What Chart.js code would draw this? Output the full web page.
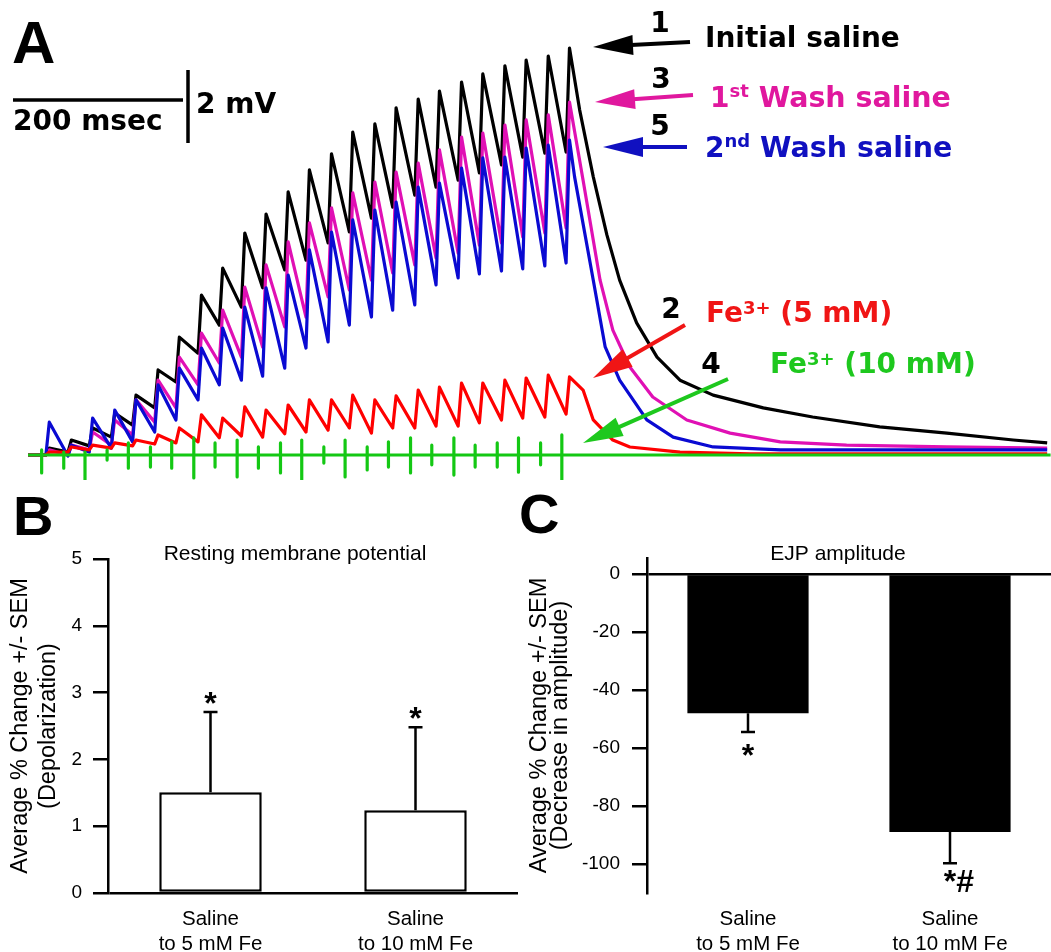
<!DOCTYPE html>
<html><head><meta charset="utf-8">
<script src="https://cdn.jsdelivr.net/npm/chart.js@4.4.1/dist/chart.umd.min.js"></script>
<style>
html,body{margin:0;padding:0;background:#fff;}
#wrap{position:relative;width:1051px;height:952px;overflow:hidden;background:#fff;}
canvas{position:absolute;}
</style></head><body>
<div id="wrap">
<canvas id="cA" width="1051" height="480" style="left:0;top:0"></canvas>
<canvas id="cB" width="520" height="472" style="left:0;top:480px"></canvas>
<canvas id="cC" width="531" height="472" style="left:520px;top:480px"></canvas>
</div>
<script>
// ---------------- Panel A data (time in ms, potential in mV above baseline) ----------------
const stimTimes = [49,75,100,126,151,177,202,228,253,279,304,330,355,381,406,432,457,483,508,534,559,585,610,636,661];
const riseTimes = [54,80,105,131,156,182,207,233,258,284,309,335,360,386,411,437,462,488,513,539,564,590,615,641,666];
const peakTimes = [58,84,109,135,160,186,211,237,262,288,313,339,364,390,415,441,466,492,517,543,568,594,619,645,670];
const traceStart = 33;
const traceEnd = 1236;

const salinePeaks   = [0.19,0.41,0.74,1.15,1.64,2.33,3.23,4.38,5.12,6.08,6.60,7.21,7.81,8.25,8.85,9.07,9.51,9.75,9.97,10.22,10.44,10.66,10.82,10.93,11.15];
const salineTroughs = [0,0.08,0.25,0.49,0.82,1.29,2.00,2.79,3.56,4.05,4.58,5.07,5.34,5.81,6.11,6.49,6.79,7.12,7.34,7.53,7.73,7.95,8.16,8.27,8.30];
const salineTailT   = [682,698,714,729,749,773,800,839,898,956,1035,1114,1192,1232];
const salineTailV   = [9.45,7.62,6.03,4.79,3.62,2.68,2.05,1.64,1.29,1.04,0.77,0.60,0.41,0.33];

const wash1Peaks    = [0.14,0.27,0.63,0.96,1.51,2.05,2.68,3.34,3.97,4.60,5.21,5.84,6.36,6.77,7.18,7.48,7.75,8.00,8.36,8.71,8.82,9.04,9.18,9.32,9.67];
const wash1Troughs  = [0,0,0.14,0.27,0.55,0.90,1.29,1.92,2.52,2.68,2.96,3.51,3.78,4.33,4.52,4.79,4.99,5.21,5.40,5.53,5.75,5.81,5.97,6.08,6.22];
const wash1TailT    = [686,706,721,741,768,808,859,918,996,1114,1232];
const wash1TailV    = [7.53,4.79,3.42,2.41,1.59,0.96,0.60,0.36,0.27,0.22,0.19];

const wash2Peaks    = [0.90,0.27,1.01,1.23,1.51,1.92,2.38,2.93,3.48,4.05,4.58,4.93,5.62,6.11,6.44,6.71,6.93,7.34,7.45,7.86,8.14,8.16,8.41,8.49,8.63];
const wash2Troughs  = [0,-0.03,0.08,0.19,0.36,0.63,0.96,1.51,1.92,2.05,2.16,2.38,2.93,3.10,3.56,3.78,3.97,4.11,4.66,4.85,4.96,5.04,5.10,5.18,5.26];
const wash2TailT    = [676,698,712,729,761,792,839,918,1074,1232];
const wash2TailV    = [7.62,4.79,2.96,2.05,0.96,0.49,0.22,0.14,0.14,0.14];

const fe5Peaks      = [0.08,0.22,0.27,0.33,0.41,0.55,0.74,1.10,1.01,1.32,1.23,1.37,1.51,1.51,1.64,1.51,1.62,1.78,1.86,1.97,1.97,2.05,2.11,2.19,2.14];
const fe5Troughs    = [0,0.08,0.14,0.19,0.25,0.30,0.33,0.36,0.47,0.52,0.49,0.58,0.63,0.68,0.74,0.60,0.74,0.74,0.79,0.79,0.88,0.96,1.01,1.04,1.12];
const fe5TailT      = [686,698,721,741,800,882,1232];
const fe5TailV      = [1.78,0.96,0.41,0.22,0.08,0.03,0.03];

const fe10ArtifactUp   = [0.14,0.08,0.08,0.14,0.33,0.22,0.36,0.47,0.33,0.41,0.22,0.33,0.41,0.22,0.41,0.22,0.36,0.47,0.27,0.47,0.27,0.33,0.47,0.33,0.55];
const fe10ArtifactDown = [-0.49,-0.36,-0.68,-0.14,-0.36,-0.33,-0.36,-0.63,-0.33,-0.60,-0.36,-0.49,-0.68,-0.22,-0.60,-0.41,-0.33,-0.49,-0.27,-0.55,-0.33,-0.33,-0.47,-0.27,-0.68];

const scaleBarTime = 200;   // msec
const scaleBarVolt = 2;     // mV

// ---------------- Panel B / C data ----------------
const barCategories = [['Saline','to 5 mM Fe'],['Saline','to 10 mM Fe']];
const rmpMean = [1.51, 1.24];
const rmpSem  = [1.20, 1.24];
const rmpSig  = ['*','*'];
const rmpTicks = [0,1,2,3,4,5];

const ejpMean = [-48, -89];
const ejpSem  = [6.5, 10.7];
const ejpSig  = ['*','*#'];
const ejpTicks = [0,-20,-40,-60,-80,-100];

// ---------------- helpers ----------------
const SANS = '"Liberation Sans", Arial, Helvetica, sans-serif';
const BOLDA = '"DejaVu Sans", Verdana, sans-serif';
Chart.defaults.font.family = SANS;
Chart.defaults.color = '#000';

function buildTrace(peaks, troughs, tailT, tailV){
  const pts = [{x: traceStart, y: 0}];
  for (let k = 0; k < stimTimes.length; k++){
    pts.push({x: riseTimes[k], y: troughs[k]});
    pts.push({x: peakTimes[k], y: peaks[k]});
  }
  for (let i = 0; i < tailT.length; i++) pts.push({x: tailT[i], y: tailV[i]});
  return pts;
}
function buildArtifacts(up, down){
  const pts = [{x: traceStart, y: 0}];
  for (let k = 0; k < stimTimes.length; k++){
    pts.push({x: stimTimes[k], y: 0});
    pts.push({x: stimTimes[k], y: up[k]});
    pts.push({x: stimTimes[k], y: down[k]});
    pts.push({x: stimTimes[k], y: 0});
  }
  pts.push({x: traceEnd, y: 0});
  return pts;
}
function arrow(ctx, x1, y1, x2, y2, color){
  const a = Math.atan2(y2 - y1, x2 - x1), hl = 40, hw = 10;
  const bx = x2 - hl * Math.cos(a), by = y2 - hl * Math.sin(a);
  ctx.save();
  ctx.strokeStyle = color; ctx.fillStyle = color; ctx.lineWidth = 4; ctx.lineCap = 'butt';
  ctx.beginPath(); ctx.moveTo(x1, y1); ctx.lineTo(bx + 2*Math.cos(a), by + 2*Math.sin(a)); ctx.stroke();
  ctx.beginPath(); ctx.moveTo(x2, y2);
  ctx.lineTo(bx - hw * Math.sin(a), by + hw * Math.cos(a));
  ctx.lineTo(bx + hw * Math.sin(a), by - hw * Math.cos(a));
  ctx.closePath(); ctx.fill();
  ctx.restore();
}
function rich(ctx, x, y, parts, color){
  ctx.save(); ctx.fillStyle = color; ctx.textAlign = 'left'; ctx.textBaseline = 'alphabetic';
  for (const [t, s, dy] of parts){
    ctx.font = 'bold ' + s + 'px ' + BOLDA;
    ctx.fillText(t, x, y + dy);
    x += ctx.measureText(t).width;
  }
  ctx.restore();
}
function label(ctx, t, x, y, font, color, align){
  ctx.save(); ctx.font = font; ctx.fillStyle = color || '#000';
  ctx.textAlign = align || 'left'; ctx.textBaseline = 'alphabetic';
  ctx.fillText(t, x, y); ctx.restore();
}

// ---------------- Panel A ----------------
const annotA = {
  id: 'annotA',
  afterDraw(chart){
    const ctx = chart.ctx, xs = chart.scales.x, ys = chart.scales.y;
    label(ctx, 'A', 12, 63, 'bold 60px ' + SANS);
    const hLen = xs.getPixelForValue(scaleBarTime) - xs.getPixelForValue(0);
    const vLen = ys.getPixelForValue(0) - ys.getPixelForValue(scaleBarVolt);
    ctx.save(); ctx.strokeStyle = '#000'; ctx.lineWidth = 3.5;
    ctx.beginPath(); ctx.moveTo(13, 100); ctx.lineTo(13 + hLen, 100); ctx.stroke();
    ctx.beginPath(); ctx.moveTo(188, 143); ctx.lineTo(188, 143 - vLen); ctx.stroke();
    ctx.restore();
    label(ctx, '200 msec', 13, 130, 'bold 28px ' + BOLDA);
    label(ctx, '2 mV', 196, 113, 'bold 28px ' + BOLDA);
    const f = 'bold 28px ' + BOLDA;
    label(ctx, '1', 660, 32, f, '#000', 'center');
    arrow(ctx, 690, 42, 593, 47, '#000');
    rich(ctx, 705, 47, [['Initial saline', 28, 0]], '#000');

    label(ctx, '3', 661, 88, f, '#000', 'center');
    arrow(ctx, 693, 95, 595, 102, '#e0189e');
    rich(ctx, 710, 107, [['1', 28, 0], ['st', 18, -10], [' Wash saline', 28.5, 0]], '#e0189e');

    label(ctx, '5', 660, 135, f, '#000', 'center');
    arrow(ctx, 687, 147, 603, 147, '#1010c0');
    rich(ctx, 705, 157, [['2', 28, 0], ['nd', 18, -10], [' Wash saline', 28.5, 0]], '#1010c0');

    label(ctx, '2', 671, 318, f, '#000', 'center');
    arrow(ctx, 685, 325, 593, 378, '#f01515');
    rich(ctx, 706, 322, [['Fe', 28, 0], ['3+', 18, -8], [' (5 mM)', 28, 0]], '#f01515');

    label(ctx, '4', 711, 373, f, '#000', 'center');
    arrow(ctx, 728, 379, 583, 443, '#1ec81e');
    rich(ctx, 770, 373, [['Fe', 28, 0], ['3+', 18, -8], [' (10 mM)', 28, 0]], '#1ec81e');
  }
};

const lineDs = (label, data, color) => ({label, data, borderColor: color, borderWidth: 3.2,
  pointRadius: 0, tension: 0, fill: false, borderJoinStyle: 'round'});

new Chart(document.getElementById('cA'), {
  type: 'line',
  data: { datasets: [
    lineDs('Fe3+ (10 mM)', buildArtifacts(fe10ArtifactUp, fe10ArtifactDown), '#14c814'),
    lineDs('Fe3+ (5 mM)', buildTrace(fe5Peaks, fe5Troughs, fe5TailT, fe5TailV), '#ff0000'),
    lineDs('2nd Wash saline', buildTrace(wash2Peaks, wash2Troughs, wash2TailT, wash2TailV), '#0a0ad2'),
    lineDs('1st Wash saline', buildTrace(wash1Peaks, wash1Troughs, wash1TailT, wash1TailV), '#e010b4'),
    lineDs('Initial saline', buildTrace(salinePeaks, salineTroughs, salineTailT, salineTailV), '#000000')
  ]},
  options: {
    responsive: false, animation: false, devicePixelRatio: 1,
    layout: { padding: 0 },
    plugins: { legend: {display: false}, tooltip: {enabled: false} },
    scales: {
      x: { type: 'linear', min: 0, max: 1236.5, display: false },
      y: { type: 'linear', min: -0.685, max: 12.466, display: false }
    }
  },
  plugins: [annotA]
});

// ---------------- Panels B & C ----------------
const errPlugin = {
  id: 'errbars',
  afterDatasetsDraw(chart, args, o){
    const meta = chart.getDatasetMeta(0), ys = chart.scales.y, ctx = chart.ctx;
    ctx.save();
    ctx.strokeStyle = '#000'; ctx.fillStyle = '#000'; ctx.lineWidth = 2.5;
    meta.data.forEach((bar, i) => {
      const m = o.mean[i], e = o.sem[i] * o.dir;
      const y0 = ys.getPixelForValue(m), y1 = ys.getPixelForValue(m + e);
      ctx.beginPath(); ctx.moveTo(bar.x, y0); ctx.lineTo(bar.x, y1);
      ctx.moveTo(bar.x - o.cap, y1); ctx.lineTo(bar.x + o.cap, y1); ctx.stroke();
      ctx.font = 'bold 32px ' + SANS;
      const t = o.sig[i], w0 = ctx.measureText('*').width, mt = ctx.measureText(t);
      const cy = y1 + o.gap;
      const base = cy + (mt.actualBoundingBoxAscent - mt.actualBoundingBoxDescent) / 2;
      ctx.textAlign = 'left'; ctx.textBaseline = 'alphabetic';
      ctx.fillText(t, bar.x - w0 / 2, base);
    });
    ctx.restore();
  },
  afterDraw(chart, args, o){
    const ctx = chart.ctx;
    label(ctx, o.letter, o.lx, o.ly, 'bold 56px ' + SANS);
    label(ctx, o.title, o.tx, o.ty, '21px ' + SANS, '#000', 'center');
  }
};

function barChart(id, opt){
  return new Chart(document.getElementById(id), {
    type: 'bar',
    data: { labels: barCategories, datasets: [{
      data: opt.mean, backgroundColor: opt.fill, borderColor: '#000',
      borderWidth: opt.bw, borderSkipped: false,
      barPercentage: opt.barPct, categoryPercentage: 1
    }]},
    options: {
      responsive: false, animation: false, devicePixelRatio: 1,
      layout: { padding: opt.padding },
      plugins: { legend: {display: false}, tooltip: {enabled: false}, errbars: opt.err },
      scales: {
        x: {
          type: 'category',
          afterFit: s => { s.height = 59; },
          grid: { display: false, drawTicks: false },
          border: { display: false },
          ticks: { color: '#000', font: { size: 20.5, lineHeight: 1.22 }, padding: 13.5, maxRotation: 0, autoSkip: false }
        },
        y: {
          min: opt.min, max: opt.max,
          afterBuildTicks: s => { s.ticks = opt.ticks.map(v => ({value: v})); },
          afterFit: s => { s.width = opt.yWidth; },
          border: { display: true, color: '#000', width: 2.5 },
          grid: {
            drawOnChartArea: true,
            color: c => (c.tick && c.tick.value === 0) ? '#000' : 'rgba(0,0,0,0)',
            lineWidth: 2.5, tickLength: 15, tickColor: '#000', tickWidth: 2.5
          },
          ticks: { color: '#000', font: { size: 19 }, padding: opt.tickPad },
          title: { display: true, text: opt.yTitle, color: '#000',
                   font: { size: 23.5, lineHeight: opt.titleLH }, padding: { top: opt.titlePad, bottom: 0 } }
        }
      }
    },
    plugins: [errPlugin]
  });
}

barChart('cB', {
  mean: rmpMean, fill: '#ffffff', bw: 2.5, barPct: 0.5,
  padding: { top: 79, right: 2, bottom: 0, left: 0 },
  min: 0, max: 5, ticks: rmpTicks, yWidth: 108, tickPad: 11,
  yTitle: ['Average % Change +/- SEM', '(Depolarization)'], titleLH: 1.213, titlePad: 6,
  err: { mean: rmpMean, sem: rmpSem, sig: rmpSig, dir: 1, cap: 7, gap: -14,
         letter: 'B', lx: 13, ly: 55, title: 'Resting membrane potential', tx: 295, ty: 80 }
});

barChart('cC', {
  mean: ejpMean, fill: '#000000', bw: 0, barPct: 0.6,
  padding: { top: 78, right: 0, bottom: 0, left: 0 },
  min: -110, max: 5.5, ticks: ejpTicks, yWidth: 127, tickPad: 12,
  yTitle: ['Average % Change +/- SEM', '(Decrease in amplitude)'], titleLH: 0.9, titlePad: 9,
  err: { mean: ejpMean, sem: ejpSem, sig: ejpSig, dir: -1, cap: 7, gap: 18,
         letter: 'C', lx: -1, ly: 53, title: 'EJP amplitude', tx: 318, ty: 80 }
});
</script>
</body></html>
